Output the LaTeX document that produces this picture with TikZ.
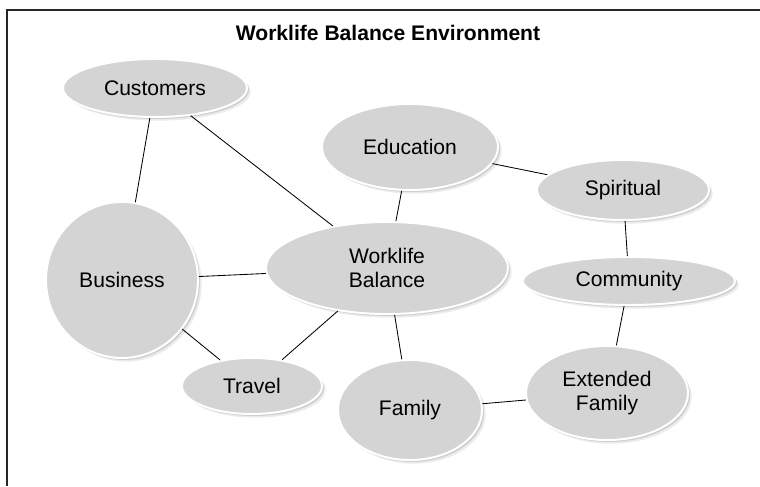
\documentclass[tikz,border=0pt]{standalone}
\usepackage{fontspec}
\setmainfont{Liberation Sans}
\usetikzlibrary{shapes.geometric,shadows}

\definecolor{bubblegray}{RGB}{212,212,212}

\tikzset{
  bubble/.style={ellipse, fill=bubblegray, draw=white, line width=1.4pt,
    inner sep=0pt, align=center, font=\fontsize{15}{17}\selectfont,
    drop shadow={shadow xshift=2.6pt, shadow yshift=-2.6pt, fill=black, opacity=0.08},
    drop shadow={shadow xshift=1.4pt, shadow yshift=-1.4pt, fill=black, opacity=0.12}},
  link/.style={black, line width=0.6pt}
}

\begin{document}
\begin{tikzpicture}
  \useasboundingbox (0,0) rectangle (19,12.15);
  \draw[line width=0.9pt, black!85] (19,11.9) -- (0.175,11.9) -- (0.175,0);
  \node at (9.7,11.33) {\fontsize{15}{17}\selectfont\bfseries Worklife Balance Environment};

  % the bubbles
  \node[bubble, minimum width=4.6cm, minimum height=1.45cm] (cust) at (3.875,9.95) {Customers};
  \node[bubble, minimum width=4.4cm, minimum height=2.15cm] (edu) at (10.25,8.475) {Education};
  \node[bubble, minimum width=4.3cm, minimum height=1.5cm] (spir) at (15.575,7.4) {Spiritual};
  \node[bubble, minimum width=3.8cm, minimum height=3.9cm] (bus) at (3.05,5.15) {Business};
  \node[bubble, minimum width=6.05cm, minimum height=2.3cm] (wlb) at (9.675,5.45) {Worklife\\Balance};
  \node[bubble, minimum width=5.3cm, minimum height=1.2cm] (comm) at (15.725,5.125) {Community};
  \node[bubble, minimum width=3.5cm, minimum height=1.4cm] (trav) at (6.3,2.5) {Travel};
  \node[bubble, minimum width=3.6cm, minimum height=2.5cm] (fam) at (10.25,1.9) {Family};
  \node[bubble, minimum width=4.05cm, minimum height=2.35cm] (ext) at (15.175,2.325) {Extended\\Family};

  % links between them
  \draw[link] (cust) -- (bus);
  \draw[link] (cust) -- (wlb);
  \draw[link] (edu) -- (wlb);
  \draw[link] (edu) -- (spir);
  \draw[link] (spir) -- (comm);
  \draw[link] (bus) -- (wlb);
  \draw[link] (bus) -- (trav);
  \draw[link] (trav) -- (wlb);
  \draw[link] (wlb) -- (fam);
  \draw[link] (comm) -- (ext);
  \draw[link] (fam) -- (ext);
\end{tikzpicture}
\end{document}
